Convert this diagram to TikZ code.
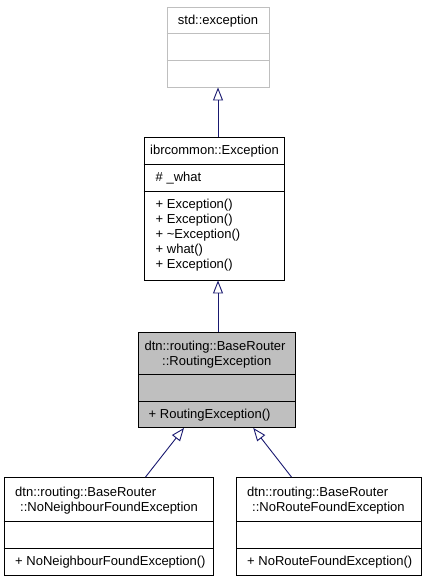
\documentclass[tikz,border=0pt]{standalone}
\usepackage{fontspec}
\setmainfont{Liberation Sans}
\usetikzlibrary{arrows.meta}
\definecolor{edgeblue}{HTML}{191970}
\definecolor{grayfill}{HTML}{BFBFBF}
\definecolor{graybord}{HTML}{BFBFBF}
\tikzset{
  box/.style={draw=black, line width=0.9pt, inner sep=0pt, fill=white},
  div/.style={draw=black, line width=0.9pt},
  txt/.style={anchor=base, inner sep=0pt, font=\fontsize{13}{15}\selectfont},
  ltxt/.style={txt, anchor=base west},
  inh/.style={draw=edgeblue, line width=0.9pt, -{Triangle[open, length=13pt, width=10pt]}}
}
\begin{document}
\begin{tikzpicture}[x=1pt,y=-1pt]
\useasboundingbox (0,0) rectangle (427,581);
% boxes
\node[box, draw=graybord, minimum width=102pt, minimum height=80pt] (std) at (218,47) {};
\node[box, minimum width=140pt, minimum height=143pt] (ibr) at (214,208.5) {};
\node[box, fill=grayfill, minimum width=156.5pt, minimum height=95.5pt] (re) at (216.75,379.75) {};
\node[box, minimum width=209pt, minimum height=97.5pt] (nn) at (108.5,526.25) {};
\node[box, minimum width=184.5pt, minimum height=97.5pt] (nr) at (328.75,526.25) {};
% dividers
\draw[div, draw=graybord] (std.west |- 0,33) -- (std.east |- 0,33);
\draw[div, draw=graybord] (std.west |- 0,60) -- (std.east |- 0,60);
\draw[div] (ibr.west |- 0,164) -- (ibr.east |- 0,164);
\draw[div] (ibr.west |- 0,191) -- (ibr.east |- 0,191);
\draw[div] (re.west |- 0,374) -- (re.east |- 0,374);
\draw[div] (re.west |- 0,401) -- (re.east |- 0,401);
\draw[div] (nn.west |- 0,521.5) -- (nn.east |- 0,521.5);
\draw[div] (nn.west |- 0,548) -- (nn.east |- 0,548);
\draw[div] (nr.west |- 0,521.5) -- (nr.east |- 0,521.5);
\draw[div] (nr.west |- 0,548) -- (nr.east |- 0,548);
% texts
\node[txt] (stdT) at (218,24.5) {std::exception};
\node[txt] (ibrT) at (214.5,154.5) {ibrcommon::Exception};
\node[ltxt] (ibrA) at (155.5,181.5) {\# \_what};
\node[ltxt] (ibrM1) at (155.5,208.5) {+ Exception()};
\node[ltxt] (ibrM2) at (155.5,223.5) {+ Exception()};
\node[ltxt] (ibrM3) at (155.5,238.5) {+ \textasciitilde Exception()};
\node[ltxt] (ibrM4) at (155.5,253.5) {+ what()};
\node[ltxt] (ibrM5) at (155.5,268.5) {+ Exception()};
\node[txt] (reT1) at (215,350) {dtn::routing::BaseRouter};
\node[txt] (reT2) at (216.75,365) {::RoutingException};
\node[ltxt] (reM) at (148.5,418.5) {+ RoutingException()};
\node[ltxt] (nnT1) at (15,496.5) {dtn::routing::BaseRouter};
\node[ltxt] (nnT2) at (20,511.5) {::NoNeighbourFoundException};
\node[ltxt] (nnM) at (15,565.5) {+ NoNeighbourFoundException()};
\node[ltxt] (nrT1) at (247,496.5) {dtn::routing::BaseRouter};
\node[ltxt] (nrT2) at (252,511.5) {::NoRouteFoundException};
\node[ltxt] (nrM) at (247,565.5) {+ NoRouteFoundException()};
% inheritance arrows
\draw[inh] (ibr.north -| std.south) -- (std.south);
\draw[inh] (re.north -| std.south) -- (ibr.south -| std.south);
\draw[inh] ([xshift=37pt]nn.north) -- ([xshift=-32.75pt]re.south);
\draw[inh] ([xshift=-37.25pt]nr.north) -- ([xshift=36.5pt]re.south);
\end{tikzpicture}
\end{document}
